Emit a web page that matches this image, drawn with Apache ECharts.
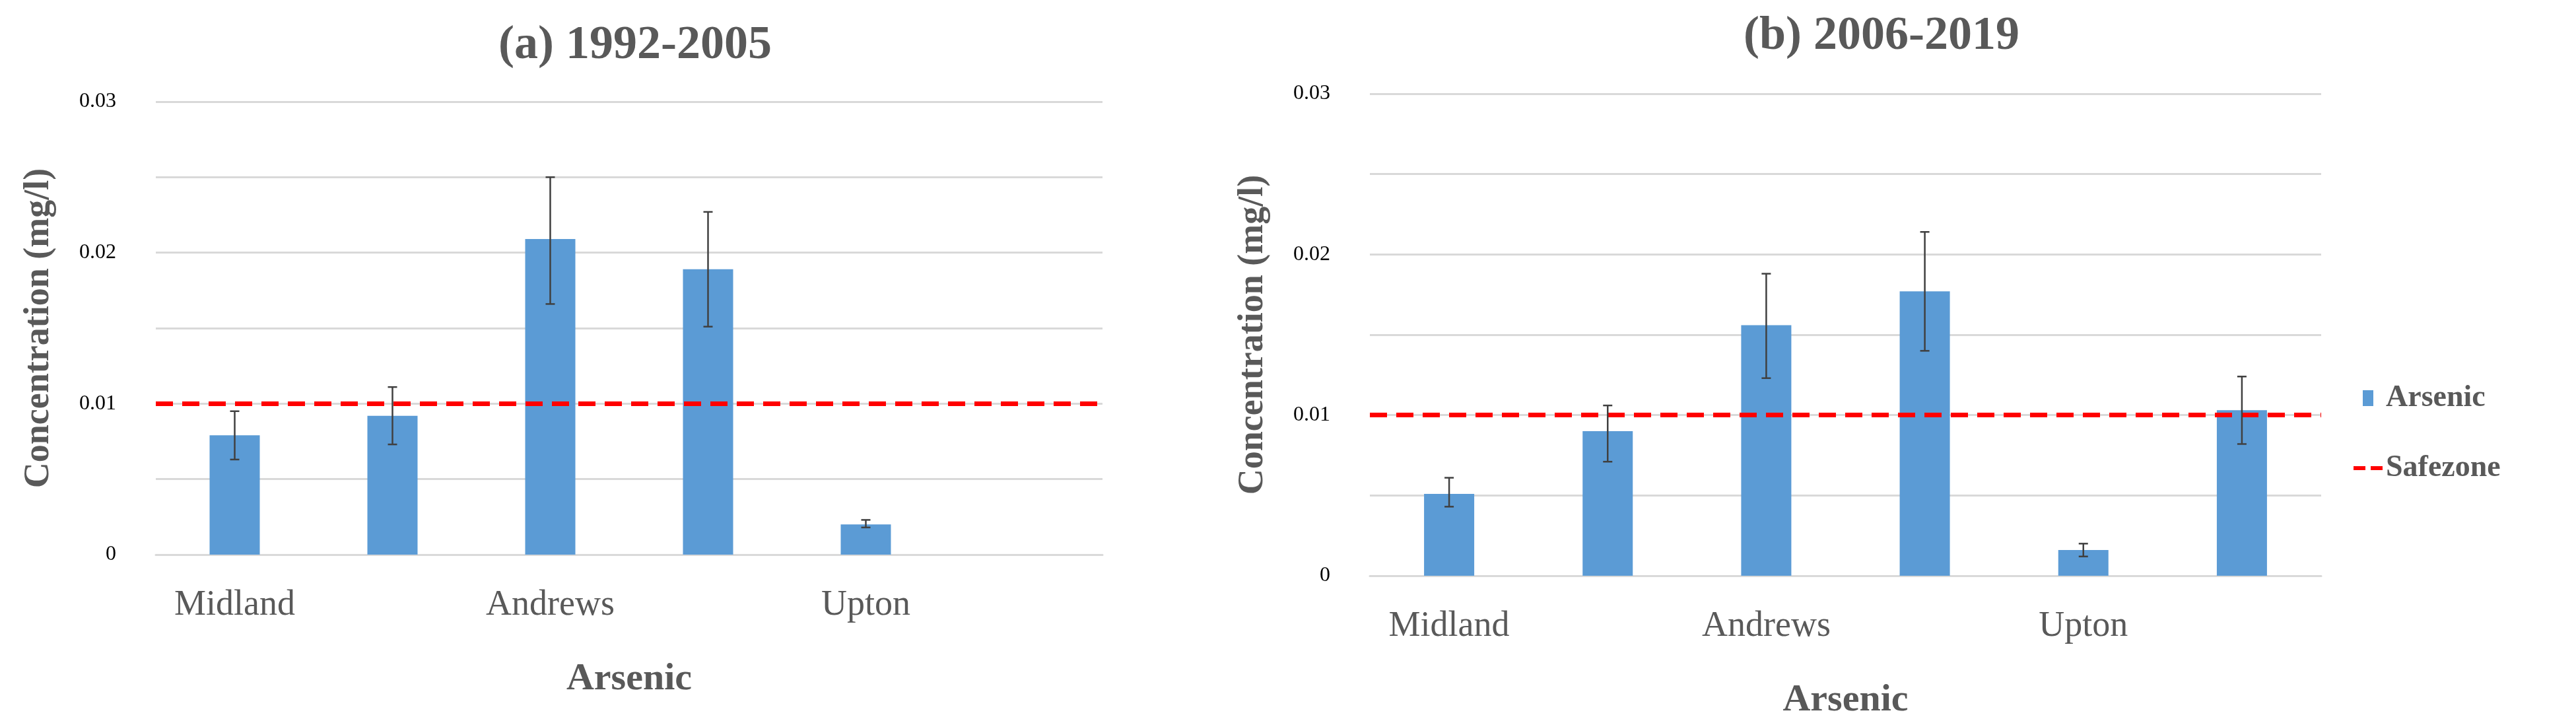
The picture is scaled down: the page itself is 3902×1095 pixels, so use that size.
<!DOCTYPE html>
<html>
<head>
<meta charset="utf-8">
<script src="https://cdn.jsdelivr.net/npm/echarts@6/dist/echarts.min.js"></script>
<style>html,body{margin:0;padding:0;background:#fff}#main{width:3902px;height:1095px}</style>
</head>
<body>
<div id="main"></div>
<script>
var categories = ['Midland', 'Crane', 'Andrews', 'Martin', 'Upton', 'Ector'];
// 1992-2005
var meanA = [0.0079, 0.0092, 0.0209, 0.0189, 0.0020, null];
var lowA  = [0.0063, 0.0073, 0.0166, 0.0151, 0.0018, null];
var highA = [0.0095, 0.0111, 0.0250, 0.0227, 0.0023, null];
// 2006-2019
var meanB = [0.0051, 0.0090, 0.0156, 0.0177, 0.0016, 0.0103];
var lowB  = [0.0043, 0.0071, 0.0123, 0.0140, 0.0012, 0.0082];
var highB = [0.0061, 0.0106, 0.0188, 0.0214, 0.0020, 0.0124];
var safezone = 0.01;
var yTicks = ['0', '0.01', '0.02', '0.03'];

var font = 'Liberation Serif';
var chart = echarts.init(document.getElementById('main'));

function errData(lo, hi) {
  var out = [];
  for (var i = 0; i < categories.length; i++) {
    if (lo[i] != null) out.push([i, lo[i], hi[i]]);
  }
  return out;
}

function renderErr(params, api) {
  var x = api.value(0);
  var p1 = api.coord([x, api.value(1)]);
  var p2 = api.coord([x, api.value(2)]);
  var c = 7;
  var st = { stroke: '#404040', lineWidth: 2.5 };
  return {
    type: 'group',
    children: [
      { type: 'line', shape: { x1: p1[0], y1: p1[1], x2: p2[0], y2: p2[1] }, style: st },
      { type: 'line', shape: { x1: p1[0] - c, y1: p1[1], x2: p1[0] + c, y2: p1[1] }, style: st },
      { type: 'line', shape: { x1: p2[0] - c, y1: p2[1], x2: p2[0] + c, y2: p2[1] }, style: st }
    ]
  };
}

function xAxis(i) {
  return {
    gridIndex: i, type: 'category', data: categories,
    name: 'Arsenic', nameLocation: 'middle', nameGap: 160,
    nameTextStyle: { fontFamily: font, fontSize: 58, fontWeight: 'bold', color: '#595959' },
    axisLine: { lineStyle: { color: '#d9d9d9', width: 3 } },
    axisTick: { show: false },
    axisLabel: { fontFamily: font, fontSize: 54, color: '#595959', margin: 50 }
  };
}

function yAxis(i) {
  return {
    gridIndex: i, type: 'value', min: 0, max: 0.03, interval: 0.005,
    name: 'Concentration (mg/l)', nameLocation: 'middle', nameGap: 150,
    nameTextStyle: { fontFamily: font, fontSize: 54, fontWeight: 'bold', color: '#595959' },
    axisLine: { show: false }, axisTick: { show: false },
    splitLine: { lineStyle: { color: '#d9d9d9', width: 3 } },
    axisLabel: {
      fontFamily: font, fontSize: 32, color: '#000', margin: 60,
      formatter: function (v) {
        var s = String(Math.round(v * 1000) / 1000);
        return yTicks.indexOf(s) >= 0 ? s : '';
      }
    }
  };
}

var dashStyle = { color: '#ff0000', type: [26, 14], width: 7 };

chart.setOption({
  backgroundColor: '#fff',
  animation: false,
  title: [
    { text: '(a) 1992-2005', left: 957, top: 28, textAlign: 'center',
      textStyle: { fontFamily: font, fontSize: 72, fontWeight: 'bold', color: '#595959' } },
    { text: '(b) 2006-2019', left: 2845, top: 14, textAlign: 'center',
      textStyle: { fontFamily: font, fontSize: 72, fontWeight: 'bold', color: '#595959' } }
  ],
  legend: {
    orient: 'vertical', left: 3560, top: 575, itemGap: 60,
    itemWidth: 44, itemHeight: 24,
    textStyle: { fontFamily: font, fontSize: 46, fontWeight: 'bold', color: '#595959' },
    data: [
      { name: 'Arsenic', icon: 'path://M14,0H30V24H14Z', itemStyle: { color: '#5b9bd5' } },
      { name: 'Safezone', icon: 'path://M0,9H18V15H0ZM26,9H44V15H26Z', itemStyle: { color: '#ff0000' } }
    ]
  },
  grid: [
    { left: 236, top: 154, width: 1434, height: 686 },
    { left: 2075, top: 142, width: 1441, height: 733 }
  ],
  xAxis: [xAxis(0), xAxis(1)],
  yAxis: [yAxis(0), yAxis(1)],
  series: [
    { name: 'Arsenic', type: 'bar', xAxisIndex: 0, yAxisIndex: 0, data: meanA, barWidth: 76, itemStyle: { color: '#5b9bd5' } },
    { name: 'err', type: 'custom', xAxisIndex: 0, yAxisIndex: 0, data: errData(lowA, highA), renderItem: renderErr, z: 5 },
    { name: 'Safezone', type: 'line', xAxisIndex: 0, yAxisIndex: 0, data: [], symbol: 'none',
      itemStyle: { color: '#ff0000' }, lineStyle: dashStyle,
      markLine: { silent: true, symbol: 'none', label: { show: false },
        lineStyle: dashStyle, data: [{ yAxis: safezone }] }, z: 6 },
    { name: 'Arsenic', type: 'bar', xAxisIndex: 1, yAxisIndex: 1, data: meanB, barWidth: 76, itemStyle: { color: '#5b9bd5' } },
    { name: 'err', type: 'custom', xAxisIndex: 1, yAxisIndex: 1, data: errData(lowB, highB), renderItem: renderErr, z: 5 },
    { name: 'Safezone', type: 'line', xAxisIndex: 1, yAxisIndex: 1, data: [], symbol: 'none',
      itemStyle: { color: '#ff0000' }, lineStyle: dashStyle,
      markLine: { silent: true, symbol: 'none', label: { show: false },
        lineStyle: dashStyle, data: [{ yAxis: safezone }] }, z: 6 }
  ]
});
</script>
</body>
</html>
